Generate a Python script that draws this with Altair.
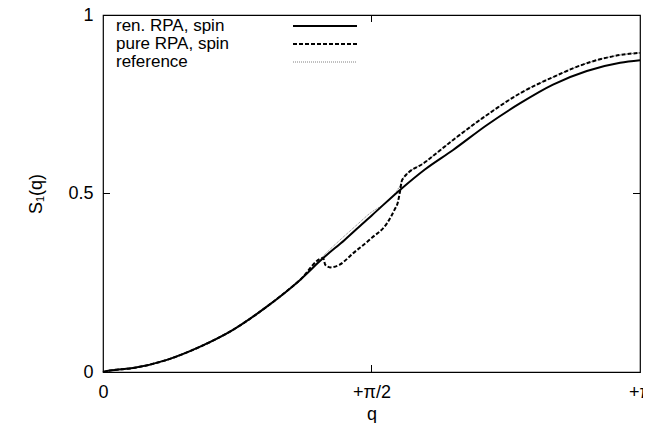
import altair as alt
import pandas as pd

# q in units of pi
q_low = [0.0, 0.013, 0.056, 0.119, 0.181, 0.242, 0.305, 0.367, 0.41]
s_low = [0.0, 0.004, 0.011, 0.034, 0.071, 0.118, 0.183, 0.258, 0.319]

q_ren = [0.45, 0.491, 0.50, 0.553, 0.60, 0.652, 0.715, 0.777, 0.838, 0.901, 0.963, 1.0]
s_ren = [0.370, 0.426, 0.438, 0.510, 0.568, 0.622, 0.692, 0.753, 0.805, 0.843, 0.866, 0.873]

q_pure = [0.414, 0.423, 0.44, 0.466, 0.50, 0.529, 0.543, 0.549, 0.553, 0.557,
          0.60, 0.652, 0.715, 0.777, 0.838, 0.901, 0.963, 1.0]
s_pure = [0.300, 0.293, 0.300, 0.333, 0.375, 0.417, 0.455, 0.475, 0.505, 0.538,
          0.588, 0.650, 0.720, 0.781, 0.826, 0.865, 0.888, 0.894]

q_ref_mid = [0.41, 0.491, 0.553]
s_ref_mid = [0.325, 0.437, 0.522]

legend_labels = ["ren. RPA, spin", "pure RPA, spin", "reference"]
x_tick_vals = [0, 0.5, 1]
x_tick_text = ["0", "+π/2", "+π"]
y_tick_vals = [0, 0.5, 1]

W, H = 537, 357
FONT = "Liberation Sans"
FS = 18

ren = pd.DataFrame({"t": q_low + q_ren, "s": s_low + s_ren})
pure = pd.DataFrame({"t": q_low + q_pure, "s": s_low + s_pure})
k = q_pure.index(0.557)
ref = pd.DataFrame({"t": q_low[:-1] + q_ref_mid + q_pure[k:],
                    "s": s_low[:-1] + s_ref_mid + s_pure[k:]})

xs = alt.Scale(domain=[0, 1], nice=False, zero=False)
ys = alt.Scale(domain=[0, 1], nice=False, zero=False)

label_expr = " : ".join(
    [f"datum.value == {v} ? '{t}'" for v, t in zip(x_tick_vals[:-1], x_tick_text[:-1])]
) + f" : '{x_tick_text[-1]}'"

x_axis = alt.Axis(values=x_tick_vals, labelExpr=label_expr, title="q", grid=False,
                  ticks=False, tickSize=0, domain=False, labelPadding=11,
                  titlePadding=4, labelFlush=False)
y_axis = alt.Axis(values=y_tick_vals, format="~g", title="S₁(q)", grid=False,
                  ticks=False, tickSize=0, domain=False, labelPadding=10,
                  titlePadding=22)

X = alt.X("t:Q", scale=xs, axis=x_axis)
Y = alt.Y("s:Q", scale=ys, axis=y_axis)

ref_line = alt.Chart(ref).mark_line(color="#808080", strokeWidth=1, strokeDash=[1, 1],
                                    interpolate="monotone").encode(x=X, y=Y)
ren_line = alt.Chart(ren).mark_line(color="black", strokeWidth=2,
                                    interpolate="monotone").encode(x=X, y=Y)
pure_line = alt.Chart(pure).mark_line(color="black", strokeWidth=2, strokeDash=[4, 2],
                                      interpolate="monotone").encode(x=X, y=Y)

xt = pd.DataFrame({"t": [0.5]})
yt = pd.DataFrame({"s": [0.5]})
tick_b = alt.Chart(xt).mark_rule(color="black").encode(
    x=X, y=alt.value(H), y2=alt.value(H - 7))
tick_t = alt.Chart(xt).mark_rule(color="black").encode(
    x=X, y=alt.value(0), y2=alt.value(7))
tick_l = alt.Chart(yt).mark_rule(color="black").encode(
    y=Y, x=alt.value(0), x2=alt.value(7))
tick_r = alt.Chart(yt).mark_rule(color="black").encode(
    y=Y, x=alt.value(W - 7), x2=alt.value(W))

row_y = [11, 29, 47]
styles = [dict(color="black", strokeWidth=2),
          dict(color="black", strokeWidth=2, strokeDash=[4, 2]),
          dict(color="#808080", strokeWidth=1, strokeDash=[1, 1])]
leg_layers = []
for lab, yy, st in zip(legend_labels, row_y, styles):
    d = pd.DataFrame({"label": [lab]})
    leg_layers.append(alt.Chart(d).mark_text(align="left", baseline="middle", font=FONT,
                                             fontSize=17, color="black").encode(
        text="label:N", x=alt.value(13), y=alt.value(yy)))
    leg_layers.append(alt.Chart(d).mark_rule(**st).encode(
        x=alt.value(190), x2=alt.value(254), y=alt.value(yy)))

chart = alt.layer(ref_line, ren_line, pure_line, tick_b, tick_t, tick_l, tick_r,
                  *leg_layers).properties(
    width=W, height=H,
    padding={"left": 95, "top": 7, "right": 3, "bottom": 51},
    autosize=alt.AutoSizeParams(type="none"),
    background="white",
).configure_view(stroke="black", strokeWidth=1.2).configure_axis(
    labelFont=FONT, labelFontSize=FS, labelColor="black",
    titleFont=FONT, titleFontSize=FS, titleColor="black", titleFontWeight="normal",
)

chart.save("out.html", embed_options={"renderer": "svg", "actions": False})
